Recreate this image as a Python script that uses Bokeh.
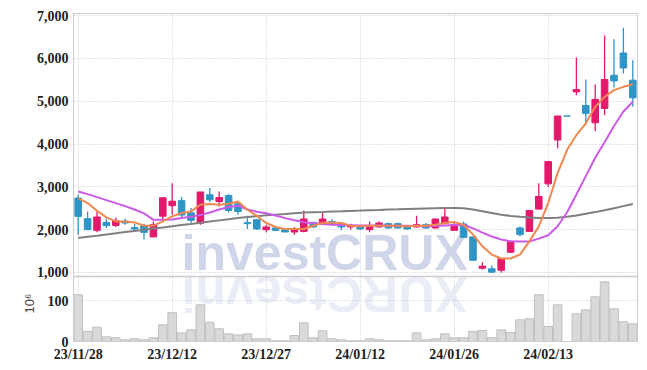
import math
from bokeh.plotting import figure
from bokeh.models import (ColumnDataSource, FixedTicker, NumeralTickFormatter, Range1d,
                          Span, Title)
from bokeh.embed import file_html
from bokeh.resources import INLINE
from bokeh.core.properties import value

# ---------------- data ----------------
tick_idx = [0, 10, 20, 30, 40, 50]
tick_labels = ["23/11/28", "23/12/12", "23/12/27", "24/01/12", "24/01/26", "24/02/13"]
price_ticks = [1000, 2000, 3000, 4000, 5000, 6000, 7000]
volume_ticks = [0, 100]

opens = [2738, 2256, 1984, 2170, 2100, 2200, 2047, 2093, 1830, 2315,
         2560, 2678, 2395, 2150, 2814, 2658, 2795, 2605, 2163, 2233,
         2000, 2040, 2000, 1946, 1960, 2170, 2133, 2193, 2140, 2063,
         2063, 2000, 2063, 2140, 2140, 2063, 2063, 2116, 2040, 2140,
         1984, 2133, 1830, 1100, 1085, 1054, 1472, 2040, 1960, 2481,
         3070, 4093, 4652, 5217, 4900, 4496, 4830, 5605, 6125, 5489]
highs = [2814, 2426, 2426, 2256, 2286, 2263, 2133, 2140, 2193, 2744,
         3086, 2760, 2505, 2880, 2970, 2891, 2830, 2660, 2326, 2233,
         2116, 2063, 2016, 2063, 2449, 2180, 2403, 2249, 2150, 2140,
         2080, 2193, 2193, 2160, 2170, 2080, 2326, 2156, 2260, 2481,
         2193, 2193, 1840, 1240, 1163, 1330, 1730, 2077, 2460, 3086,
         3600, 4660, 4652, 6017, 5505, 5389, 6536, 6443, 6715, 5954]
lows = [1884, 2000, 1937, 2040, 2063, 2116, 1984, 1768, 1830, 2233,
        2350, 2296, 2156, 2116, 2644, 2542, 2400, 2350, 2016, 2000,
        1937, 1984, 1946, 1884, 1937, 2040, 2120, 2093, 1984, 2000,
        2000, 1937, 2050, 2020, 2020, 2000, 2050, 2020, 2030, 2130,
        1975, 1810, 1280, 1070, 1000, 1000, 1465, 1840, 1950, 2470,
        3000, 3900, 4652, 5140, 4442, 4303, 4675, 5320, 5645, 4868]
closes = [2310, 2000, 2296, 2093, 2210, 2156, 2016, 1937, 2116, 2744,
          2665, 2340, 2217, 2880, 2698, 2751, 2450, 2426, 2140, 2016,
          2063, 1984, 1946, 1984, 2249, 2063, 2249, 2140, 2063, 2093,
          2016, 2093, 2156, 2040, 2040, 2016, 2116, 2040, 2249, 2296,
          2116, 1821, 1286, 1147, 1008, 1326, 1728, 1884, 2449, 2775,
          3589, 4652, 4652, 5273, 4715, 5040, 5505, 5473, 5775, 5078]
volume_m = [114, 24.4, 35, 11.4, 9, 4, 6.5, 4, 9, 40.7,
            70, 21, 28.5, 89.4, 47, 31, 18.7, 16, 18.7, 6.5,
            6.5, 1.6, 1.6, 14.6, 45.5, 9, 26, 6.5, 4, 1.6,
            1.6, 6.5, 4, 1.6, 1.6, 1.6, 21, 4, 6.5, 18.7,
            9, 9, 24.4, 26.8, 9, 28.5, 22, 52.8, 55.3, 114,
            36.6, 89.4, 0, 67.5, 77.2, 109, 145.5, 79.7, 48, 43]
ma5 = [2738, 2621, 2442, 2286, 2193, 2193, 2170, 2093, 2093, 2193,
       2310, 2388, 2426, 2582, 2598, 2582, 2605, 2659, 2465, 2326,
       2156, 2063, 2016, 2016, 2016, 2093, 2156, 2170, 2156, 2093,
       2077, 2093, 2093, 2093, 2093, 2077, 2093, 2093, 2116, 2156,
       2179, 2116, 1884, 1612, 1419, 1326, 1326, 1419, 1728, 2077,
       2621, 3319, 3860, 4209, 4482, 4868, 5101, 5257, 5335, 5396]
ma10 = [2890, 2830, 2760, 2690, 2620, 2550, 2470, 2380, 2230, 2230,
        2240, 2270, 2300, 2340, 2400, 2470, 2530, 2560, 2470, 2420,
        2385, 2330, 2270, 2220, 2175, 2150, 2130, 2116, 2110, 2105,
        2100, 2100, 2098, 2095, 2093, 2090, 2085, 2080, 2090, 2100,
        2110, 2116, 2030, 1930, 1840, 1770, 1728, 1722, 1725, 1790,
        1870, 2080, 2400, 2820, 3250, 3680, 4040, 4420, 4760, 4985]
ma_long = [1806, 1833, 1860, 1888, 1915, 1943, 1970, 1997, 2025, 2052,
           2080, 2107, 2134, 2162, 2189, 2217, 2244, 2272, 2295, 2315,
           2335, 2350, 2365, 2385, 2400, 2408, 2415, 2423, 2430, 2438,
           2445, 2453, 2460, 2468, 2475, 2483, 2490, 2495, 2500, 2503,
           2505, 2500, 2470, 2430, 2390, 2350, 2320, 2300, 2285, 2275,
           2272, 2280, 2300, 2330, 2370, 2410, 2455, 2500, 2550, 2600]

# ---------------- styling ----------------
UP = "#e3196b"
DOWN = "#2f95c6"
GRID = "#c5c9d6"
AXIS_FONT = "Liberation Sans Narrow"
WM_COLOR = "#d0d6e9"

n = len(closes)
xs = list(range(n))
colors = [UP if c > o else DOWN for o, c in zip(opens, closes)]
src = ColumnDataSource(dict(
    x=xs, open=opens, high=highs, low=lows, close=closes,
    top=[max(o, c) for o, c in zip(opens, closes)],
    bottom=[min(o, c) for o, c in zip(opens, closes)],
    color=colors, vol=volume_m, ma5=ma5, ma10=ma10, ma_long=ma_long))

# price range (lower part of the frame holds the volume panel)
Y0, Y1 = -611, 7047
V1 = 800             # volume range top (millions)
panel_split = 158.5  # volume value where the price panel ends

p = figure(width=645, height=366, x_range=Range1d(-0.5, n - 0.5), y_range=Range1d(Y0, Y1),
           output_backend="svg", toolbar_location=None,
           min_border_left=73, min_border_right=8, min_border_top=13, min_border_bottom=25,
           background_fill_color="white", border_fill_color="white")
p.extra_y_ranges = {"vol": Range1d(0, V1)}
p.outline_line_color = "#cccccc"

# ---- watermark + reflection ----
wm_text = "investCRUX"
wm_x0 = 11.0
wm_size = 50
p.text(x=[wm_x0], y=[1448], text=[wm_text], text_color=WM_COLOR,
       text_font=value("Liberation Sans"), text_font_style="bold",
       text_font_size=f"{wm_size}px", text_align="left", text_baseline="middle")

em_widths = {"i": 0.278, "n": 0.611, "v": 0.556, "e": 0.556, "s": 0.556,
             "t": 0.333, "C": 0.722, "R": 0.722, "U": 0.722, "X": 0.667}
px_per_unit = 564 / n
cx, cum = [], 0.0
for ch in wm_text:
    w = em_widths[ch]
    cx.append(wm_x0 + (cum + w / 2) * wm_size / px_per_unit)
    cum += w
p.text(x=cx, y=[116] * len(cx), text=list(wm_text), angle=math.pi,
       text_color=WM_COLOR, text_alpha=0.45, y_range_name="vol",
       text_font=value("Liberation Sans"), text_font_style="bold",
       text_font_size=f"{wm_size}px", text_align="center", text_baseline="middle")

# ---- volume ----
p.vbar(x="x", width=0.92, top="vol", bottom=0, fill_color="#d9d9d9",
       line_color="#bfbfbf", line_width=1, source=src, y_range_name="vol")

# ---- candles and moving averages ----
p.segment(x0="x", y0="high", x1="x", y1="low", color="color", line_width=1.3, source=src)
p.vbar(x="x", width=0.7, top="top", bottom="bottom", fill_color="color",
       line_color="color", line_width=1, source=src)
p.line("x", "ma_long", color="#808080", line_width=2, source=src)
p.line("x", "ma10", color="#cc5ae8", line_width=2, source=src)
p.line("x", "ma5", color="#f0884f", line_width=2, source=src)

# separator between price and volume panels, volume grid line
p.add_layout(Span(location=panel_split, dimension="width", y_range_name="vol",
                  line_color="#cccccc", line_width=1.5))
p.add_layout(Span(location=100, dimension="width", y_range_name="vol",
                  line_color=GRID, line_dash="1 2", line_width=1, level="underlay"))

# ---- axes ----
vol_to_price = (Y1 - Y0) / V1
vol_tick_pos = [Y0 + v * vol_to_price for v in volume_ticks]
p.yaxis.ticker = FixedTicker(ticks=vol_tick_pos + price_ticks)
p.yaxis.formatter = NumeralTickFormatter(format="0,0")
p.yaxis.major_label_overrides = {pos: str(v) for pos, v in zip(vol_tick_pos, volume_ticks)}
p.ygrid.ticker = FixedTicker(ticks=price_ticks)
p.xaxis.ticker = FixedTicker(ticks=tick_idx)
p.xaxis.major_label_overrides = {i: l for i, l in zip(tick_idx, tick_labels)}
p.xgrid.ticker = FixedTicker(ticks=tick_idx)
for g in (p.xgrid, p.ygrid):
    g.grid_line_color = GRID
    g.grid_line_dash = "1 2"
    g.grid_line_width = 1

for ax in list(p.xaxis) + list(p.yaxis):
    ax.axis_line_color = "#cccccc"
    ax.major_tick_out = 0
    ax.major_tick_in = 0
    ax.minor_tick_out = 0
    ax.minor_tick_in = 0
    ax.major_label_standoff = 5
    ax.major_label_text_font = AXIS_FONT
    ax.major_label_text_font_style = "bold"
    ax.major_label_text_font_size = "14px"
    ax.major_label_text_color = "#222222"

# unit label of the volume axis
p.add_layout(Title(text="10⁶", align="left", offset=28, standoff=-6,
                   text_font="Liberation Sans", text_font_style="normal",
                   text_font_size="13px", text_color="#444444"), "left")

open("out.html", "w").write(file_html(p, INLINE))
